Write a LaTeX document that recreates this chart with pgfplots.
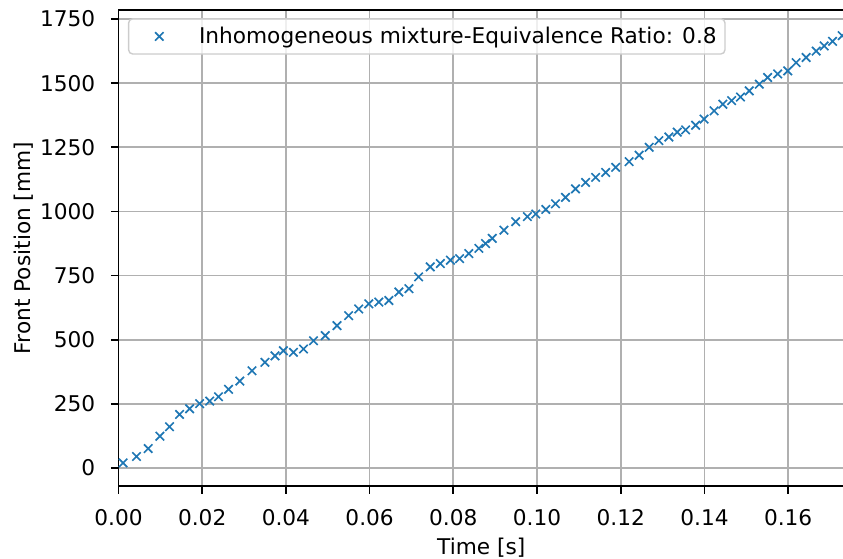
\documentclass[border=0pt]{standalone}
\usepackage{fontspec}
\setmainfont{DejaVu Sans}
\usepackage{pgfplots}
\pgfplotsset{compat=1.18}
\definecolor{mplblue}{HTML}{1F77B4}
\definecolor{gridgray}{HTML}{B0B0B0}
\begin{document}
\begin{tikzpicture}
\useasboundingbox (0,0) rectangle (606.96pt,401.76pt);
\begin{axis}[
  at={(85.3pt,51.84pt)}, anchor=south west,
  scale only axis, width=522.4pt, height=342.7pt,
  xmin=0, xmax=0.17335, ymin=-70, ymax=1785,
  xtick={0,0.02,0.04,0.06,0.08,0.10,0.12,0.14,0.16},
  ytick={0,250,500,750,1000,1250,1500,1750},
  scaled x ticks=false, scaled y ticks=false,
  xticklabel style={/pgf/number format/fixed, /pgf/number format/fixed zerofill, /pgf/number format/precision=2, inner sep=0pt, yshift=-11pt},
  yticklabel style={/pgf/number format/1000 sep={}, inner sep=0pt, xshift=-11pt},
  /pgf/number format/assume math mode=true,
  grid=major, major grid style={gridgray, line width=1.2pt},
  tick align=outside, tick pos=left, major tick length=5.5pt,
  tick style={black, line width=1.2pt},
  axis line style={line width=1.2pt},
  xlabel={Time [s]}, ylabel={Front Position [mm]},
  xlabel style={inner sep=0pt, yshift=-8.5pt},
  ylabel style={inner sep=0pt, yshift=5pt},
  label style={font=\fontsize{15.6}{18.7}\selectfont},
  ticklabel style={font=\fontsize{15.6}{18.7}\selectfont},
  legend style={at={(0.013,0.983)}, anchor=north west, draw=black!20, line width=1pt, rounded corners=3pt,
    fill=white, fill opacity=0.8, text opacity=1, inner xsep=6pt, inner ysep=6pt,
    nodes={inner sep=0pt},
    font=\fontsize{15.6}{18.7}\selectfont},
  legend cell align=left,
  legend image code/.code={\path (0pt,0pt) (43.7pt,0pt); \draw[mark repeat=2,mark phase=2,#1] plot coordinates {(0pt,0pt)(15.6pt,0pt)(31.2pt,0pt)};},
]
\addplot[only marks, mark=x, mark size=4.3pt, mark options={mplblue, line width=1.2pt}] coordinates {
(0.0011,20) (0.0043,45) (0.0071,76) (0.0099,124) (0.0122,161) (0.0146,209)
(0.0170,231) (0.0194,251) (0.0218,261) (0.0239,278) (0.0263,307) (0.0290,339)
(0.0319,379) (0.0350,412) (0.0374,437) (0.0394,457) (0.0418,451) (0.0442,464)
(0.0466,496) (0.0494,516) (0.0522,555) (0.0550,594) (0.0574,620) (0.0598,640)
(0.0622,647) (0.0646,653) (0.0670,686) (0.0694,699) (0.0717,745) (0.0745,784)
(0.0769,797) (0.0793,810) (0.0815,816) (0.0837,836) (0.0861,856) (0.0877,875)
(0.0893,895) (0.0921,927) (0.0949,960) (0.0977,980) (0.0997,990) (0.1021,1008)
(0.1044,1030) (0.1068,1055) (0.1092,1088) (0.1116,1113) (0.1140,1133) (0.1164,1152)
(0.1188,1172) (0.1220,1194) (0.1244,1219) (0.1268,1250) (0.1291,1276) (0.1315,1290)
(0.1335,1309) (0.1355,1318) (0.1379,1336) (0.1399,1360) (0.1423,1392) (0.1444,1418)
(0.1465,1432) (0.1486,1446) (0.1507,1470) (0.1531,1496) (0.1551,1522) (0.1575,1536)
(0.1599,1548) (0.1619,1580) (0.1643,1600) (0.1667,1625) (0.1686,1645) (0.1706,1663)
(0.1729,1685)
};
\addlegendentry{Inhomogeneous mixture-Equivalence Ratio: 0.8}
\end{axis}
\end{tikzpicture}
\end{document}
